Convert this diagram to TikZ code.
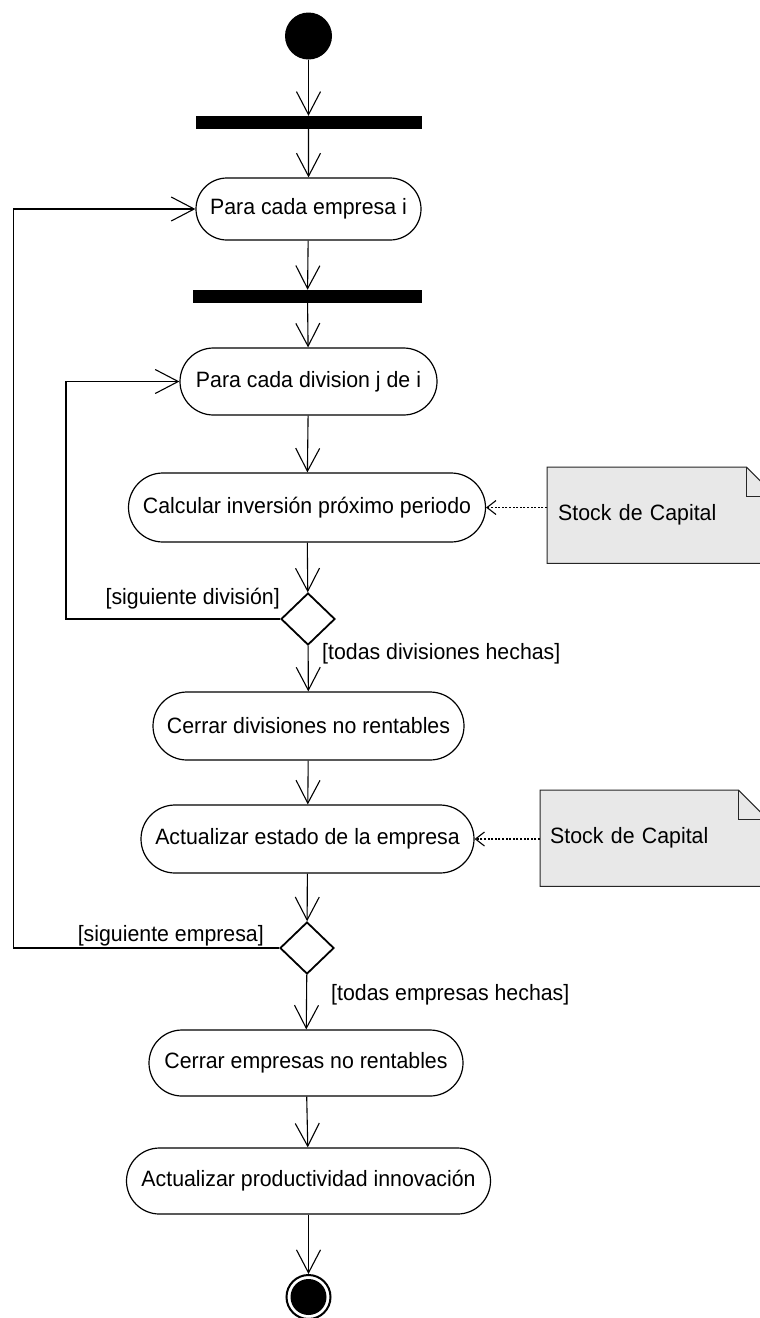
\documentclass[tikz,border=0pt]{standalone}
\usepackage{fontspec}
\setmainfont[FakeStretch=0.96]{Liberation Sans}
\usetikzlibrary{arrows.meta,shapes.misc,shapes.geometric,calc,backgrounds}

\begin{document}
\begin{tikzpicture}[x=1pt,y=-1pt,
  txt/.style={font=\fontsize{22.2}{26}\selectfont},
  activity/.style={rounded rectangle, draw, line width=1.2pt, inner sep=0pt, txt},
  forkbar/.style={rectangle, fill, inner sep=0pt, minimum height=13pt},
  decision/.style={diamond, draw, line width=1.8pt, inner sep=0pt,
                   minimum width=54pt, minimum height=52pt},
  notebox/.style={rectangle, inner ysep=0pt, align=left, minimum height=96pt, txt},
  guard/.style={inner sep=0pt, txt},
  flow/.style={line width=1.1pt, -{Straight Barb[length=23pt,width=24pt]}},
  dep/.style={line width=1.1pt, dash pattern=on 2pt off 1.6pt,
              -{Straight Barb[length=9pt,width=14pt]}},
  notefill/.style={fill=black!9, draw=black!85, line width=1pt}
]
\useasboundingbox (0,0) rectangle (760,1318);

% initial node and forks
\node[circle, fill, inner sep=0pt, minimum size=47pt] (start) at (308.5,36) {};
\node[forkbar, minimum width=226pt] (fork1) at (308.5,122.5) {};
\node[activity, minimum width=225pt, minimum height=62pt] (empresa) at (308.5,209) {Para cada empresa i};
\node[forkbar, minimum width=229pt] (fork2) at (307.5,296.5) {};
\node[activity, minimum width=257pt, minimum height=67pt] (division) at (308.5,381.5) {Para cada division j de i};
\node[activity, minimum width=357pt, minimum height=69pt] (calcinv) at (307,507.5) {Calcular inversión próximo periodo};
\node[decision] (d1) at (308,619) {};
\node[activity, minimum width=311pt, minimum height=68pt] (cerrardiv) at (308.5,726) {Cerrar divisiones no rentables};
\node[activity, minimum width=333pt, minimum height=68pt] (estado) at (307.5,839) {Actualizar estado de la empresa};
\node[decision] (d2) at (307,948) {};
\node[activity, minimum width=314pt, minimum height=66pt] (cerraremp) at (306,1063) {Cerrar empresas no rentables};
\node[activity, minimum width=364pt, minimum height=66pt] (prod) at (308.5,1181) {Actualizar productividad innovación};

% final node
\node[circle, draw, line width=2pt, inner sep=0pt, minimum size=44pt] (end) at (308.5,1297) {};
\fill (end.center) circle (18);

% notes
\node[notebox, text width=206pt, inner xsep=11pt, anchor=north west] (note1) at (547,467) {Stock de Capital};
\node[notebox, text width=207pt, inner xsep=10pt, anchor=north west] (note2) at (540,790) {Stock de Capital};
\begin{scope}[on background layer]
  \foreach \n in {note1,note2}{
    \filldraw[notefill] (\n.north west) -- ($(\n.north east)+(-29,0)$)
      -- ($(\n.north east)+(0,29)$) -- (\n.south east) -- (\n.south west) -- cycle;
    \draw[notefill, fill=none] ($(\n.north east)+(-29,0)$) |- ($(\n.north east)+(0,29)$);
  }
\end{scope}

% guards
\node[guard, anchor=south east] (gnext1) at (280,609) {[siguiente división]};
\node[guard, anchor=west] (gall1) at (322,654) {[todas divisiones hechas]};
\node[guard, anchor=south east] (gnext2) at (264,946) {[siguiente empresa]};
\node[guard, anchor=west] (gall2) at (331,995) {[todas empresas hechas]};

% control flow
\draw[flow] (start) -- (fork1);
\draw[flow] (fork1) -- (empresa);
\draw[flow] (empresa) -- (fork2);
\draw[flow] (fork2) -- (division);
\draw[flow] (division) -- (calcinv);
\draw[flow] (calcinv) -- (d1);
\draw[flow] (d1) -- (cerrardiv);
\draw[flow] (cerrardiv) -- (estado);
\draw[flow] (estado) -- (d2);
\draw[flow] (d2) -- (cerraremp);
\draw[flow] (cerraremp) -- (prod);
\draw[flow] (prod) -- (end);

% loops back
\coordinate (innerx) at (66,500);
\coordinate (outerx) at (13.5,500);
\draw[flow] (d1.west) -| (innerx) |- (division.west);
\draw[flow] (d2.west) -| (outerx) |- (empresa.west);

% object dependencies
\draw[dep] (note1.west |- calcinv.east) -- (calcinv.east);
\draw[dep] (note2.west |- estado.east) -- (estado.east);
\end{tikzpicture}
\end{document}
